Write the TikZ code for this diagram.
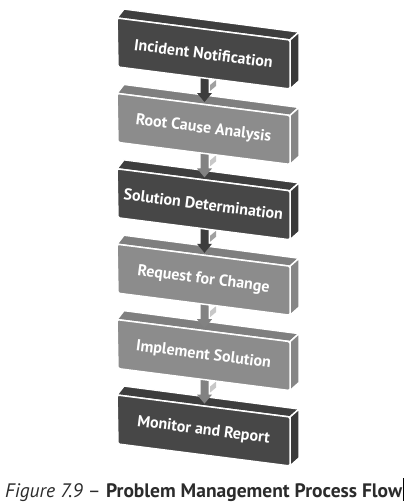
\documentclass[tikz,border=0pt]{standalone}
\usepackage{fontspec}
\setmainfont{PT Sans}
\definecolor{dkfront}{HTML}{474747}
\definecolor{dktop}{HTML}{3E3E3E}
\definecolor{dkside}{HTML}{3A3A3A}
\definecolor{ltfront}{HTML}{8C8C8C}
\definecolor{lttop}{HTML}{7F7F7F}
\definecolor{ltside}{HTML}{868686}
\definecolor{dkarrow}{HTML}{3D3D3D}
\definecolor{ltarrow}{HTML}{828282}
\definecolor{dksliver}{HTML}{A0A0A0}
\definecolor{ltsliver}{HTML}{C8C8C8}
\definecolor{captxt}{HTML}{2B2B2B}
\newcommand\pmbox[6]{%
  \begin{scope}[shift={(0,#1)}]
    \filldraw[faceedge,fill=#3] (124,9) -- (299,32) -- (290,40) -- (117,18) -- cycle;
    \filldraw[faceedge,fill=#4] (290,40) -- (299,32) -- (299,81) -- (290,89) -- cycle;
    \filldraw[faceedge,fill=#2,rounded corners=1.5pt] (117,18) -- (290,40) -- (290,89) -- (118,67) -- cycle;
    \node[lbl] (#5) at (203.5,53.5) {#6};
  \end{scope}}
\newcommand\pmarrow[3]{%
  \begin{scope}[shift={(0,#1)}]
    \fill[#3] (210,85) -- (216,80) -- (216,86) -- (210,91) -- cycle;
    \fill[#2] (200.5,74) -- (208.5,74) -- (208.5,93) -- (212,93) -- (204.5,102) -- (197,93) -- (200.5,93) -- cycle;
  \end{scope}}
\begin{document}
\begin{tikzpicture}[x=1pt,y=-1pt,
  faceedge/.style={draw=white,line width=1.5pt,line join=round},
  lbl/.style={text=white,font=\bfseries\fontsize{16}{18}\selectfont,rotate=-7.3,inner sep=0pt}]
\useasboundingbox (0,0) rectangle (415,504);
\fill[white] (0,0) rectangle (415,504);
\pmbox{377}{dkfront}{dktop}{dkside}{b6}{Monitor and Report}
\pmarrow{301.6}{ltarrow}{ltsliver}
\pmbox{301.6}{ltfront}{lttop}{ltside}{b5}{Implement Solution}
\pmarrow{226.2}{ltarrow}{ltsliver}
\pmbox{226.2}{ltfront}{lttop}{ltside}{b4}{Request for Change}
\pmarrow{150.8}{dkarrow}{dksliver}
\pmbox{150.8}{dkfront}{dktop}{dkside}{b3}{Solution Determination}
\pmarrow{75.4}{ltarrow}{ltsliver}
\pmbox{75.4}{ltfront}{lttop}{ltside}{b2}{Root Cause Analysis}
\pmarrow{0}{dkarrow}{dksliver}
\pmbox{0}{dkfront}{dktop}{dkside}{b1}{Incident Notification}
\node[anchor=base west,inner sep=0pt,text=captxt] (cap) at (5,497)
  {\resizebox{397pt}{!}{\textit{Figure 7.9} -- \textbf{Problem Management Process Flow}}};
\coordinate (cur1) at (403,478);
\coordinate (cur2) at (403,501);
\draw[line width=0.8pt,black] (cur1) -- (cur2);
\end{tikzpicture}
\end{document}
